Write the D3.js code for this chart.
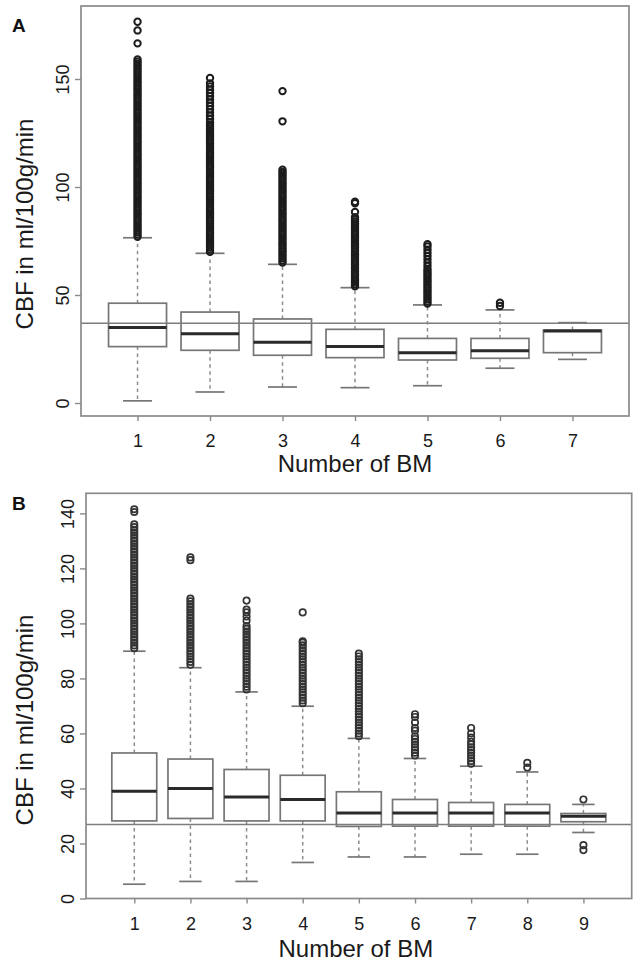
<!DOCTYPE html>
<html>
<head>
<meta charset="utf-8">
<script src="https://cdn.jsdelivr.net/npm/d3@7"></script>
<style>
  html, body { margin: 0; padding: 0; background: #fff; }
  svg { display: block; font-family: "Liberation Sans", Arial, sans-serif; }
</style>
</head>
<body>
<svg id="chart" width="638" height="964"></svg>
<script>
// ---------- Panel A data ----------
const catsA = [1, 2, 3, 4, 5, 6, 7];
const loA  = [1.0, 5.1, 7.4, 7.1, 8.0, 16.1, 20.2];
const q1A  = [26.1, 24.4, 22.1, 21.0, 19.9, 20.7, 23.3];
const medA = [35.0, 32.1, 28.1, 26.1, 23.3, 24.2, 33.3];
const q3A  = [46.2, 42.1, 38.9, 34.1, 29.9, 29.9, 33.8];
const hiA  = [76.5, 69.3, 64.2, 53.4, 45.4, 43.1, 37.2];
const outA1 = [77,78,79,80,81,82,83,84,85,86,87,88,89,90,91,92,93,94,95,96,97,98,99,100,101,102,103,104,105,106,107,108,109,110,111,112,113,114,115,116,117,118,119,120,121,122,123,124,125,126,127,128,129,130,131,132,133,134,135,136,137,138,139,140,141,142,143,144,145,146,147,148,149,150,151,152,153,154,155,156,157,158,159,166.5,172.5,176.5];
const outA2 = [70,71,72,73,74,75,76,77,78,79,80,81,82,83,84,85,86,87,88,89,90,91,92,93,94,95,96,97,98,99,100,101,102,103,104,105,106,107,108,109,110,111,112,113,114,115,116,117,118,119,120,121,122,123,124,125,126,127,128,129,130,131.5,133,134.5,136,137.5,139,140.5,142,143.5,145,146.5,148,150.5];
const outA3 = [65,66,67,68,69,70,71,72,73,74,75,76,77,78,79,80,81,82,83,84,85,86,87,88,89,90,91,92,93,94,95,96,97,98,99,100,101,102,103,104,105,106,107,108,130.4,144.4];
const outA4 = [54,55,56,57,58,59,60,61,62,63,64,65,66,67,68,69,70,71,72,73,74,75,76,77,78,79,80,81,82,83,84,85,86,88.4,92.5,93.2];
const outA5 = [46,47,48,49,50,51,52,53,54,55,56,57,58,59,60,61,62,63.5,65,66.5,68,69.5,71,72.5,73.5];
const outA6 = [44.9, 46.4];
const outA7 = [];
const outA = [outA1, outA2, outA3, outA4, outA5, outA6, outA7];
const refA = 36.9;
const yTicksA = [0, 50, 100, 150];

// ---------- Panel B data ----------
const catsB = [1, 2, 3, 4, 5, 6, 7, 8, 9];
const loB  = [5.2, 6.2, 6.2, 13.1, 15.1, 15.1, 16.1, 16.1, 24.0];
const q1B  = [28.2, 29.1, 28.2, 28.2, 26.2, 26.3, 26.3, 26.3, 27.9];
const medB = [39.0, 40.0, 36.9, 36.0, 31.1, 31.1, 31.1, 31.1, 29.9];
const q3B  = [52.9, 50.7, 46.9, 44.8, 38.8, 36.0, 34.9, 34.2, 30.9];
const hiB  = [89.9, 83.9, 75.1, 69.9, 58.2, 50.9, 48.1, 46.0, 34.2];
const outB1 = [91,92,93,94,95,96,97,98,99,100,101,102,103,104,105,106,107,108,109,110,111,112,113,114,115,116,117,118,119,120,121,122,123,124,125,126,127,128,129,130,131,132,133,134,135,136,140.5,141.5];
const outB2 = [85,86,87,88,89,90,91,92,93,94,95,96,97,98,99,100,101,102,103,104,105,106,107,108,109,123,124];
const outB3 = [76,77,78,79,80,81,82,83,84,85,86,87,88,89,90,91,92,93,94,95,96,97,98,99,101,102.5,104,105,108.3];
const outB4 = [71,72,73,74,75,76,77,78,79,80,81,82,83,84,85,86,87,88,89,90,91,92,93,93.5,104];
const outB5 = [59,60,61,62,63,64,65,66,67,68,69,70,71,72,73,74,75,76,77,78,79,80,81,82,83,84,85,86,87,88,89];
const outB6 = [52,53,54,55,56,57,58,59,61,62,64,66,67];
const outB7 = [49,50,51,52,53,54,55,56,57,58.5,60,62];
const outB8 = [47.6, 49.3];
const outB9 = [36.0, 19.4, 17.6];
const outB = [outB1, outB2, outB3, outB4, outB5, outB6, outB7, outB8, outB9];
const refB = 26.9;
const yTicksB = [0, 20, 40, 60, 80, 100, 120, 140];

const xTitle = "Number of BM";
const yTitle = "CBF in ml/100g/min";

const svg = d3.select("#chart");

const FRAME = "#8a8a8a", BOXC = "#767676", MEDC = "#2a2a2a", WHC = "#8c8c8c", TXT = "#1a1a1a";

function panel(o) {
  const g = svg.append("g");
  const x = d3.scaleLinear().domain(o.xDomain).range([o.left, o.right]);
  const y = d3.scaleLinear().domain(o.yDomain).range([o.bottom, o.top]);
  const unit = x(2) - x(1);
  const bw = unit * 0.8;
  const rows = o.cats.map((c, i) => ({c, lo: o.lo[i], q1: o.q1[i], med: o.med[i], q3: o.q3[i], hi: o.hi[i], out: o.out[i]}));

  // whiskers (dashed)
  const wg = g.append("g");
  rows.forEach(r => {
    wg.append("line").attr("x1", x(r.c)).attr("x2", x(r.c)).attr("y1", y(r.q3)).attr("y2", y(r.hi))
      .attr("stroke", WHC).attr("stroke-width", 1.5).attr("stroke-dasharray", "3.5,3.5");
    wg.append("line").attr("x1", x(r.c)).attr("x2", x(r.c)).attr("y1", y(r.q1)).attr("y2", y(r.lo))
      .attr("stroke", WHC).attr("stroke-width", 1.5).attr("stroke-dasharray", "3.5,3.5");
    [r.lo, r.hi].forEach(v => {
      wg.append("line").attr("x1", x(r.c) - bw / 4).attr("x2", x(r.c) + bw / 4).attr("y1", y(v)).attr("y2", y(v))
        .attr("stroke", BOXC).attr("stroke-width", 1.7);
    });
  });

  // boxes
  g.append("g").selectAll("rect").data(rows).join("rect")
    .attr("x", d => x(d.c) - bw / 2).attr("width", bw)
    .attr("y", d => y(d.q3)).attr("height", d => y(d.q1) - y(d.q3))
    .attr("fill", "none").attr("stroke", BOXC).attr("stroke-width", 1.7);

  // medians
  g.append("g").selectAll("line").data(rows).join("line")
    .attr("x1", d => x(d.c) - bw / 2).attr("x2", d => x(d.c) + bw / 2)
    .attr("y1", d => y(d.med)).attr("y2", d => y(d.med))
    .attr("stroke", MEDC).attr("stroke-width", 3);

  // outliers
  const og = g.append("g");
  rows.forEach(r => {
    og.selectAll(null).data(r.out).join("circle")
      .attr("cx", x(r.c)).attr("cy", v => y(v)).attr("r", o.r)
      .attr("fill", "none").attr("stroke", o.outC).attr("stroke-width", o.outW);
  });

  // reference line
  g.append("line").attr("x1", o.left).attr("x2", o.right).attr("y1", y(o.ref)).attr("y2", y(o.ref))
    .attr("stroke", "#7d7d7d").attr("stroke-width", 1.6);

  // frame
  g.append("rect").attr("x", o.left).attr("y", o.top).attr("width", o.right - o.left).attr("height", o.bottom - o.top)
    .attr("fill", "none").attr("stroke", FRAME).attr("stroke-width", 1.7);

  // y axis
  const ya = g.append("g").attr("transform", `translate(${o.left},0)`)
    .call(d3.axisLeft(y).tickValues(o.yTicks).tickSize(6).tickFormat(d3.format("d")));
  ya.select(".domain").remove();
  ya.selectAll(".tick line").attr("stroke", FRAME).attr("stroke-width", 1.4);
  ya.selectAll(".tick text").attr("transform", "rotate(-90)").attr("x", 0).attr("y", -18)
    .attr("dy", "0.35em").attr("text-anchor", "middle").attr("fill", TXT)
    .style("font-size", "18px").style("font-family", "Liberation Sans, Arial, sans-serif");

  // x axis
  const xa = g.append("g").attr("transform", `translate(0,${o.bottom})`)
    .call(d3.axisBottom(x).tickValues(o.cats).tickSize(5).tickFormat(d3.format("d")));
  xa.select(".domain").remove();
  xa.selectAll(".tick line").attr("stroke", FRAME).attr("stroke-width", 1.4);
  xa.selectAll(".tick text").attr("y", o.xLabOff).attr("dy", 0).attr("fill", TXT)
    .style("font-size", "18px").style("font-family", "Liberation Sans, Arial, sans-serif");

  // titles
  g.append("text").attr("x", (o.left + o.right) / 2 + o.xtDx).attr("y", o.xtY)
    .attr("text-anchor", "middle").attr("fill", TXT).style("font-size", "24px").text(xTitle);
  g.append("text").attr("transform", `translate(33,${o.ytY}) rotate(-90)`)
    .attr("text-anchor", "middle").attr("fill", TXT).style("font-size", "24px").text(yTitle);
  g.append("text").attr("x", 12).attr("y", o.letterY).attr("fill", "#111")
    .style("font-size", "19px").style("font-weight", "bold").text(o.letter);
}

panel({
  cats: catsA, lo: loA, q1: q1A, med: medA, q3: q3A, hi: hiA, out: outA, ref: refA, yTicks: yTicksA,
  left: 81, right: 629, top: 6, bottom: 416,
  xDomain: [0.22, 7.78], yDomain: [-6.02, 183.8],
  xLabOff: 30.5, xtY: 472, xtDx: 0, ytY: 224, letter: "A", letterY: 32,
  r: 3.2, outC: "#1c1c1c", outW: 2.0
});

panel({
  cats: catsB, lo: loB, q1: q1B, med: medB, q3: q3B, hi: hiB, out: outB, ref: refB, yTicks: yTicksB,
  left: 86, right: 631.7, top: 493.3, bottom: 898.5,
  xDomain: [0.14, 9.86], yDomain: [0, 147.3],
  xLabOff: 31.5, xtY: 957, xtDx: -3, ytY: 720, letter: "B", letterY: 510,
  r: 3.2, outC: "#333333", outW: 1.7
});
</script>
</body>
</html>
